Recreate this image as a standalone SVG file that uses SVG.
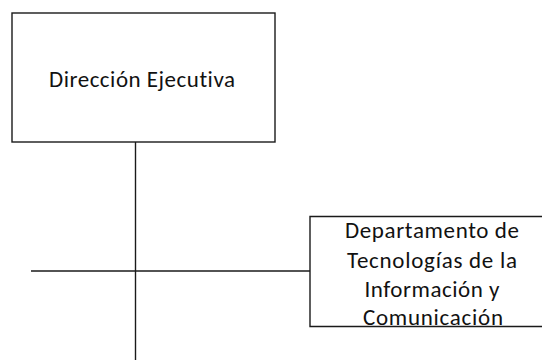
<svg xmlns="http://www.w3.org/2000/svg" width="542" height="360" viewBox="0 0 542 360">
<style>
.box{fill:#fff;stroke:#1a1a1a;stroke-width:1.4}
.ln{stroke:#1a1a1a;stroke-width:1.4;fill:none}
.t{font-family:Carlito,Lato,"Open Sans",sans-serif;font-size:23px;fill:#111;text-anchor:middle;font-variant-ligatures:none}
</style>
<rect width="542" height="360" fill="#fff"/>
<g id="connectors">
<line class="ln" x1="135.5" y1="142" x2="135.5" y2="360"/>
<line class="ln" x1="31" y1="271" x2="310" y2="271"/>
</g>
<g id="direccion-ejecutiva">
<rect class="box" x="12" y="13" width="263" height="129"/>
<text class="t" x="142" y="87" textLength="186">Dirección Ejecutiva</text>
</g>
<g id="departamento-tic">
<path class="box" d="M543 216.5 H310 V326.5 H543"/>
<text class="t" x="432" y="238" textLength="174">Departamento de</text>
<text class="t" x="432" y="267.5" textLength="170">Tecnologías de la</text>
<text class="t" x="432" y="296.5" textLength="135">Información y</text>
<text class="t" x="433" y="325" textLength="140">Comunicación</text>
</g>
</svg>
